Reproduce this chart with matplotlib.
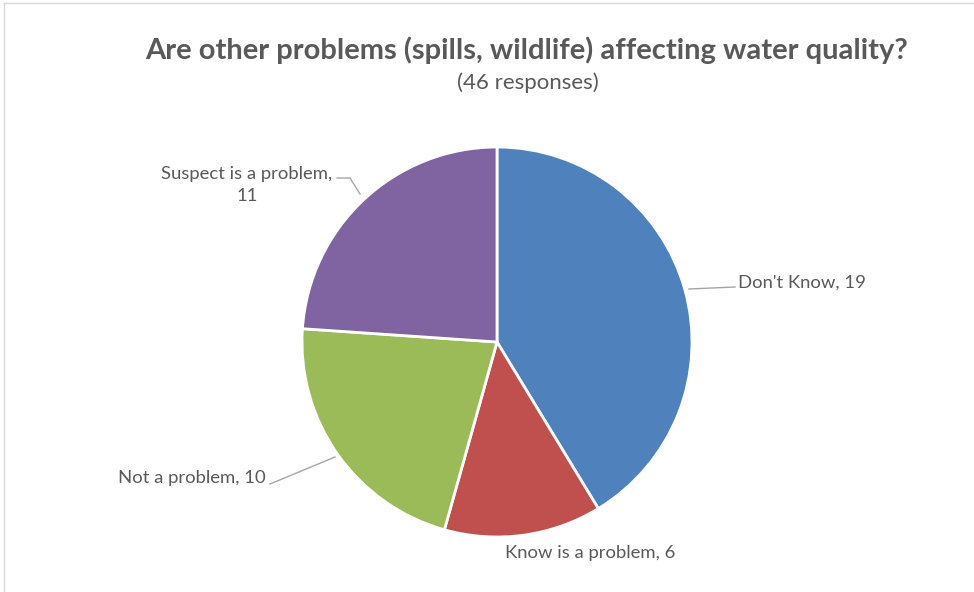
import matplotlib
matplotlib.use("Agg")
import matplotlib.pyplot as plt
from matplotlib.lines import Line2D

# Survey answers
categories = ["Don't Know", "Know is a problem", "Not a problem", "Suspect is a problem"]
counts = [19, 6, 10, 11]
colors = ["#4F81BD", "#C0504D", "#9BBB59", "#8064A2"]
title = "Are other problems (spills, wildlife) affecting water quality?"
subtitle = "(46 responses)"

W, H = 974, 592
fig = plt.figure(figsize=(W / 100, H / 100), dpi=100)
ax = fig.add_axes([0, 0, 1, 1])
ax.set_xlim(0, W)
ax.set_ylim(0, H)
ax.set_aspect("equal")
ax.axis("off")

def Y(y):
    # pixel row (from top) -> data y
    return H - y

text_color = "#595959"
font = "Lato"

cx, cy, r = 497, Y(342), 195
ax.pie(counts, colors=colors, startangle=90, counterclock=False,
       center=(cx, cy), radius=r, frame=True,
       wedgeprops=dict(edgecolor="white", linewidth=2))
ax.set_xlim(0, W)
ax.set_ylim(0, H)
ax.axis("off")

# Chart area border (top and left edges)
fig.add_artist(Line2D([4, 4], [0, Y(3)], transform=ax.transData, color="#D9D9D9", lw=1))
fig.add_artist(Line2D([4, W], [Y(3), Y(3)], transform=ax.transData, color="#D9D9D9", lw=1))

ax.text(527, Y(50), title, ha="center", va="center", fontsize=21,
        fontweight="bold", color=text_color, family=font)
ax.text(528, Y(83), subtitle, ha="center", va="center", fontsize=16,
        color=text_color, family=font)

lbl = dict(fontsize=13.3, color=text_color, family=font)
lead = dict(color="#A6A6A6", lw=1)

ax.text(738, Y(283), f"{categories[0]}, {counts[0]}", ha="left", va="center", **lbl)
ax.plot([689, 735], [Y(289), Y(287)], **lead)

ax.text(590, Y(553), f"{categories[1]}, {counts[1]}", ha="center", va="center", **lbl)

ax.text(266, Y(478), f"{categories[2]}, {counts[2]}", ha="right", va="center", **lbl)
ax.plot([270, 335], [Y(484), Y(457)], **lead)

ax.text(247, Y(185), f"{categories[3]},\n{counts[3]}", ha="center", va="center",
        linespacing=1.5, **lbl)
ax.plot([337, 350, 360], [Y(178), Y(178), Y(194)], **lead)

fig.savefig("out.png", dpi=100, facecolor="white")
